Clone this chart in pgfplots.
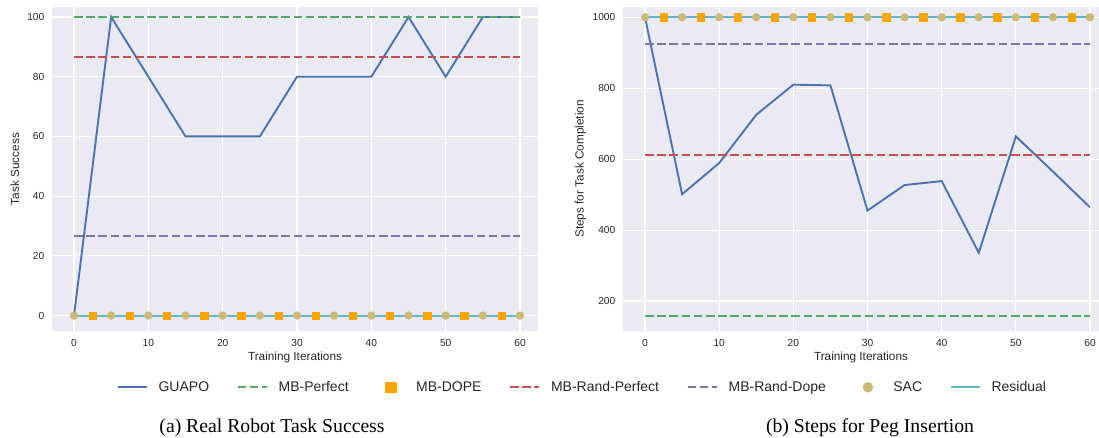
\documentclass[border=0pt]{standalone}
\usepackage{pgfplots}
\pgfplotsset{compat=1.18}
\usepackage{fontspec}
\setmainfont{Liberation Sans}
\newfontfamily\capfont{Liberation Serif}

\definecolor{sbblue}{HTML}{4C72B0}
\definecolor{sbgreen}{HTML}{55A868}
\definecolor{sbred}{HTML}{C44E52}
\definecolor{sbpurple}{HTML}{8172B2}
\definecolor{sbyellow}{HTML}{CCB974}
\definecolor{sbcyan}{HTML}{64B5CD}
\definecolor{dopeorange}{HTML}{FFA500}
\definecolor{sbbg}{HTML}{EAEAF2}
\definecolor{sbtext}{HTML}{262626}

\pgfplotsset{
  sbstyle/.style={
    scale only axis,
    height=324bp,
    axis background/.style={fill=sbbg},
    axis line style={draw=none},
    tick style={draw=none},
    major tick length=0pt,
    grid=major,
    major grid style={white, line width=1.1bp},
    xtick={0,10,...,60},
    /pgf/number format/assume math mode=true,
    /pgf/number format/set thousands separator={},
    ticklabel style={font=\fontsize{10.2bp}{12bp}\selectfont, text=sbtext},
    xticklabel style={anchor=base, yshift=-15.2bp},
    yticklabel style={anchor=east, inner sep=0pt, xshift=-7.5bp},
    every axis x label/.style={at={(axis description cs:0.5,-0.0802)}, anchor=center,
      font=\fontsize{11.8bp}{14bp}\selectfont, text=sbtext},
  },
  ylab/.style={every axis y label/.style={at={(axis description cs:#1,0.5)}, rotate=90,
      anchor=center, font=\fontsize{11.8bp}{14bp}\selectfont, text=sbtext}},
  leg line/.style={legend image code/.code={\draw[##1] (0bp,0bp) -- (29bp,0bp);}},
  leg mark/.style={legend image code/.code={
      \path[draw=none, fill=none] (0bp,0bp) -- (29bp,0bp);
      \draw[##1, draw=none, mark size=#1] plot coordinates {(14.5bp,0bp)};}},
  guapo/.style={sbblue, line width=1.9bp, mark=none, leg line},
  dashedbase/.style={line width=2bp, mark=none, dash pattern=on 8.5bp off 3.7bp, leg line},
  dope/.style={only marks, mark=square*, mark size=3.7bp, dopeorange, mark options={draw=dopeorange, fill=dopeorange}, leg mark=5.1bp},
  sac/.style={only marks, mark=*, mark size=3.9bp, sbyellow, mark options={draw=sbyellow, fill=sbyellow}, leg mark=5bp},
  resid/.style={sbcyan, line width=1.9bp, mark=none, leg line},
}

\begin{document}
\begin{tikzpicture}
\useasboundingbox (0,0) rectangle (1099bp,438bp);

\begin{axis}[
  sbstyle,
  at={(52bp,107bp)}, anchor=south west,
  width=486bp,
  xmin=-2.96, xmax=62.42,
  ymin=-5.16, ymax=103.35,
  ytick={0,20,...,100},
  xlabel={Training Iterations},
  ylabel={Task Success},
  ylab=-0.0761,
  legend columns=7,
  legend style={
    at={(axis description cs:0.1331,-0.1735)}, anchor=west,
    draw=none, fill=none, inner sep=0pt, outer sep=0pt,
    nodes={inner sep=0pt, text=sbtext, font=\fontsize{14bp}{16bp}\selectfont},
    /tikz/every odd column/.append style={column sep=11bp},
    /tikz/every even column/.append style={column sep=27.5bp},
  },
]
\addplot[guapo] coordinates {
  (0,0) (5,100) (10,80) (15,60) (20,60) (25,60) (30,80)
  (35,80) (40,80) (45,100) (50,80) (55,100) (60,100)
};
\addlegendentry{GUAPO}
\addplot[dashedbase, sbgreen] coordinates {(0,100) (60,100)};
\addlegendentry{MB-Perfect}
\addplot[dope] coordinates {
  (2.5,0) (7.5,0) (12.5,0) (17.5,0) (22.5,0) (27.5,0) (32.5,0)
  (37.5,0) (42.5,0) (47.5,0) (52.5,0) (57.5,0)
};
\addlegendentry{MB-DOPE}
\addplot[dashedbase, sbred] coordinates {(0,86.67) (60,86.67)};
\addlegendentry{MB-Rand-Perfect}
\addplot[dashedbase, sbpurple] coordinates {(0,26.67) (60,26.67)};
\addlegendentry{MB-Rand-Dope}
\addplot[sac] coordinates {
  (0,0) (5,0) (10,0) (15,0) (20,0) (25,0) (30,0)
  (35,0) (40,0) (45,0) (50,0) (55,0) (60,0)
};
\addlegendentry{SAC}
\addplot[resid] coordinates {(0,0) (60,0)};
\addlegendentry{Residual}
\end{axis}

\begin{axis}[
  sbstyle,
  at={(623bp,107bp)}, anchor=south west,
  width=476bp,
  xmin=-2.966, xmax=61.21,
  ymin=115.4, ymax=1029,
  ytick={200,400,...,1000},
  xlabel={Training Iterations},
  ylabel={Steps for Task Completion},
  ylab=-0.0889,
]
\addplot[guapo] coordinates {
  (0,1000) (5,501) (10,589) (15,725) (20,810) (25,808) (30,455)
  (35,527) (40,538) (45,336) (50,664) (55,565) (60,464)
};
\addplot[dashedbase, sbgreen] coordinates {(0,159) (60,159)};
\addplot[dope] coordinates {
  (2.5,1000) (7.5,1000) (12.5,1000) (17.5,1000) (22.5,1000) (27.5,1000) (32.5,1000)
  (37.5,1000) (42.5,1000) (47.5,1000) (52.5,1000) (57.5,1000)
};
\addplot[dashedbase, sbred] coordinates {(0,612) (60,612)};
\addplot[dashedbase, sbpurple] coordinates {(0,925) (60,925)};
\addplot[sac] coordinates {
  (0,1000) (5,1000) (10,1000) (15,1000) (20,1000) (25,1000) (30,1000)
  (35,1000) (40,1000) (45,1000) (50,1000) (55,1000) (60,1000)
};
\addplot[resid] coordinates {(0,1000) (60,1000)};
\end{axis}

\node[anchor=base, font=\capfont\fontsize{19.7bp}{22bp}\selectfont] at (272bp,5.3bp) {(a) Real Robot Task Success};
\node[anchor=base, font=\capfont\fontsize{19.7bp}{22bp}\selectfont] at (870bp,5.3bp) {(b) Steps for Peg Insertion};
\end{tikzpicture}
\end{document}
